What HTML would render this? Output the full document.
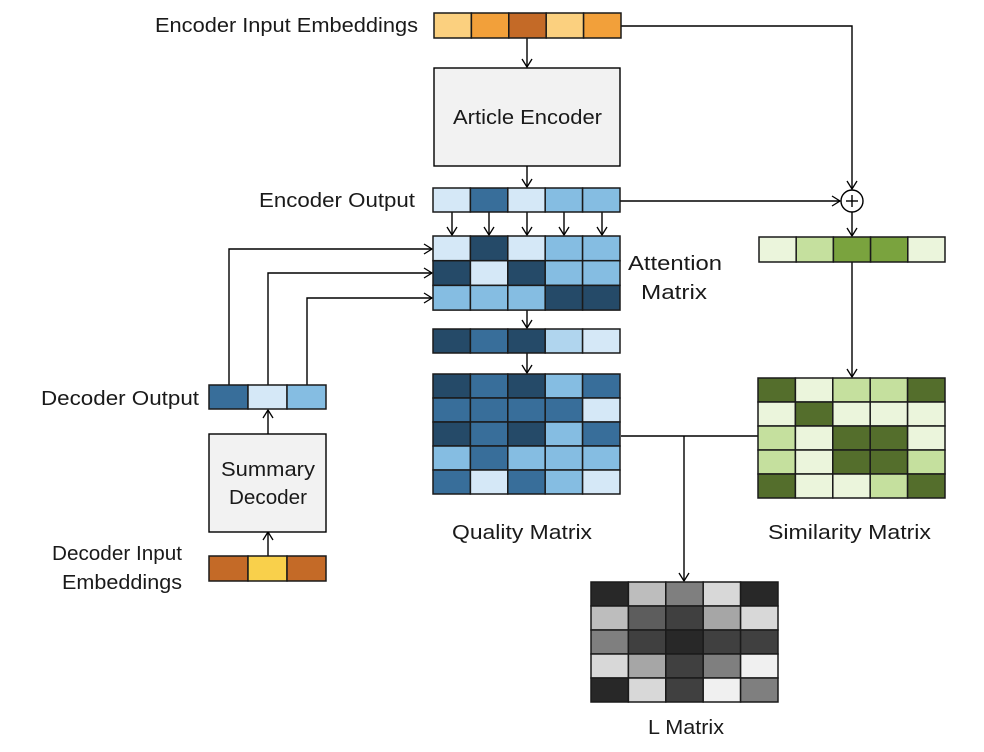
<!DOCTYPE html>
<html><head><meta charset="utf-8"><style>html,body{margin:0;padding:0;background:#fff}svg{display:block}text{font-family:"Liberation Sans",sans-serif;font-size:20px;fill:#1a1a1a}</style></head>
<body>
<svg width="984" height="752" viewBox="0 0 984 752" xmlns="http://www.w3.org/2000/svg">
<defs><marker id="a" markerWidth="12" markerHeight="12" refX="10" refY="6" orient="auto" markerUnits="userSpaceOnUse"><path d="M2,1 L10,6 L2,11" fill="none" stroke="#000" stroke-width="1.3"/></marker></defs>
<g stroke="#000" stroke-width="1.4" fill="none">
<!-- connectors -->
<line x1="527" y1="38" x2="527" y2="67" marker-end="url(#a)"/>
<line x1="527" y1="166" x2="527" y2="187" marker-end="url(#a)"/>
<polyline points="621,26 852,26 852,189" marker-end="url(#a)"/>
<line x1="620" y1="201" x2="840" y2="201" marker-end="url(#a)"/>
<line x1="852" y1="212" x2="852" y2="236" marker-end="url(#a)"/>
<line x1="852" y1="262" x2="852" y2="377" marker-end="url(#a)"/>
<line x1="452" y1="212" x2="452" y2="235" marker-end="url(#a)"/>
<line x1="489" y1="212" x2="489" y2="235" marker-end="url(#a)"/>
<line x1="527" y1="212" x2="527" y2="235" marker-end="url(#a)"/>
<line x1="564" y1="212" x2="564" y2="235" marker-end="url(#a)"/>
<line x1="602" y1="212" x2="602" y2="235" marker-end="url(#a)"/>
<line x1="527" y1="310" x2="527" y2="328" marker-end="url(#a)"/>
<line x1="527" y1="353" x2="527" y2="373" marker-end="url(#a)"/>
<polyline points="229,385 229,249 432,249" marker-end="url(#a)"/>
<polyline points="268,385 268,273 432,273" marker-end="url(#a)"/>
<polyline points="307,385 307,298 432,298" marker-end="url(#a)"/>
<line x1="268" y1="434" x2="268" y2="410" marker-end="url(#a)"/>
<line x1="268" y1="556" x2="268" y2="532" marker-end="url(#a)"/>
<line x1="621" y1="436" x2="758" y2="436"/>
<line x1="684" y1="436" x2="684" y2="581" marker-end="url(#a)"/>
<circle cx="852" cy="201" r="11" fill="#fff"/>
<line x1="846" y1="201" x2="858" y2="201"/><line x1="852" y1="195" x2="852" y2="207"/>
<!-- boxes -->
<rect x="434" y="68" width="186" height="98" fill="#f2f2f2"/>
<rect x="209" y="434" width="117" height="98" fill="#f2f2f2"/>
</g>
<g stroke="#1a1a1a" stroke-width="1.5">
<!-- encoder input -->
<rect x="434" y="13" width="37.4" height="25" fill="#fbd07f"/><rect x="471.4" y="13" width="37.4" height="25" fill="#f2a03a"/><rect x="508.8" y="13" width="37.4" height="25" fill="#c46a27"/><rect x="546.2" y="13" width="37.4" height="25" fill="#fbd07f"/><rect x="583.6" y="13" width="37.4" height="25" fill="#f2a03a"/>
<!-- encoder output -->
<rect x="433" y="188" width="37.4" height="24" fill="#d5e8f7"/><rect x="470.4" y="188" width="37.4" height="24" fill="#386e9a"/><rect x="507.8" y="188" width="37.4" height="24" fill="#d5e8f7"/><rect x="545.2" y="188" width="37.4" height="24" fill="#85bde2"/><rect x="582.6" y="188" width="37.4" height="24" fill="#85bde2"/>
<!-- attention -->
<rect x="433" y="236" width="37.4" height="24.7" fill="#d5e8f7"/><rect x="470.4" y="236" width="37.4" height="24.7" fill="#254a68"/><rect x="507.8" y="236" width="37.4" height="24.7" fill="#d5e8f7"/><rect x="545.2" y="236" width="37.4" height="24.7" fill="#85bde2"/><rect x="582.6" y="236" width="37.4" height="24.7" fill="#85bde2"/>
<rect x="433" y="260.7" width="37.4" height="24.7" fill="#254a68"/><rect x="470.4" y="260.7" width="37.4" height="24.7" fill="#d5e8f7"/><rect x="507.8" y="260.7" width="37.4" height="24.7" fill="#254a68"/><rect x="545.2" y="260.7" width="37.4" height="24.7" fill="#85bde2"/><rect x="582.6" y="260.7" width="37.4" height="24.7" fill="#85bde2"/>
<rect x="433" y="285.4" width="37.4" height="24.7" fill="#85bde2"/><rect x="470.4" y="285.4" width="37.4" height="24.7" fill="#85bde2"/><rect x="507.8" y="285.4" width="37.4" height="24.7" fill="#85bde2"/><rect x="545.2" y="285.4" width="37.4" height="24.7" fill="#254a68"/><rect x="582.6" y="285.4" width="37.4" height="24.7" fill="#254a68"/>
<!-- row -->
<rect x="433" y="329" width="37.4" height="24" fill="#254a68"/><rect x="470.4" y="329" width="37.4" height="24" fill="#386e9a"/><rect x="507.8" y="329" width="37.4" height="24" fill="#254a68"/><rect x="545.2" y="329" width="37.4" height="24" fill="#b0d5ee"/><rect x="582.6" y="329" width="37.4" height="24" fill="#d5e8f7"/>
<!-- quality -->
<rect x="433" y="374" width="37.4" height="24" fill="#254a68"/><rect x="470.4" y="374" width="37.4" height="24" fill="#386e9a"/><rect x="507.8" y="374" width="37.4" height="24" fill="#254a68"/><rect x="545.2" y="374" width="37.4" height="24" fill="#85bde2"/><rect x="582.6" y="374" width="37.4" height="24" fill="#386e9a"/>
<rect x="433" y="398" width="37.4" height="24" fill="#386e9a"/><rect x="470.4" y="398" width="37.4" height="24" fill="#386e9a"/><rect x="507.8" y="398" width="37.4" height="24" fill="#386e9a"/><rect x="545.2" y="398" width="37.4" height="24" fill="#386e9a"/><rect x="582.6" y="398" width="37.4" height="24" fill="#d5e8f7"/>
<rect x="433" y="422" width="37.4" height="24" fill="#254a68"/><rect x="470.4" y="422" width="37.4" height="24" fill="#386e9a"/><rect x="507.8" y="422" width="37.4" height="24" fill="#254a68"/><rect x="545.2" y="422" width="37.4" height="24" fill="#85bde2"/><rect x="582.6" y="422" width="37.4" height="24" fill="#386e9a"/>
<rect x="433" y="446" width="37.4" height="24" fill="#85bde2"/><rect x="470.4" y="446" width="37.4" height="24" fill="#386e9a"/><rect x="507.8" y="446" width="37.4" height="24" fill="#85bde2"/><rect x="545.2" y="446" width="37.4" height="24" fill="#85bde2"/><rect x="582.6" y="446" width="37.4" height="24" fill="#85bde2"/>
<rect x="433" y="470" width="37.4" height="24" fill="#386e9a"/><rect x="470.4" y="470" width="37.4" height="24" fill="#d5e8f7"/><rect x="507.8" y="470" width="37.4" height="24" fill="#386e9a"/><rect x="545.2" y="470" width="37.4" height="24" fill="#85bde2"/><rect x="582.6" y="470" width="37.4" height="24" fill="#d5e8f7"/>
<!-- green row -->
<rect x="759" y="237" width="37.2" height="25" fill="#ebf5dc"/><rect x="796.2" y="237" width="37.2" height="25" fill="#c5e09e"/><rect x="833.4" y="237" width="37.2" height="25" fill="#7aa33e"/><rect x="870.6" y="237" width="37.2" height="25" fill="#7aa33e"/><rect x="907.8" y="237" width="37.2" height="25" fill="#ebf5dc"/>
<!-- similarity -->
<rect x="758" y="378" width="37.4" height="24" fill="#546e2c"/><rect x="795.4" y="378" width="37.4" height="24" fill="#ebf5dc"/><rect x="832.8" y="378" width="37.4" height="24" fill="#c5e09e"/><rect x="870.2" y="378" width="37.4" height="24" fill="#c5e09e"/><rect x="907.6" y="378" width="37.4" height="24" fill="#546e2c"/>
<rect x="758" y="402" width="37.4" height="24" fill="#ebf5dc"/><rect x="795.4" y="402" width="37.4" height="24" fill="#546e2c"/><rect x="832.8" y="402" width="37.4" height="24" fill="#ebf5dc"/><rect x="870.2" y="402" width="37.4" height="24" fill="#ebf5dc"/><rect x="907.6" y="402" width="37.4" height="24" fill="#ebf5dc"/>
<rect x="758" y="426" width="37.4" height="24" fill="#c5e09e"/><rect x="795.4" y="426" width="37.4" height="24" fill="#ebf5dc"/><rect x="832.8" y="426" width="37.4" height="24" fill="#546e2c"/><rect x="870.2" y="426" width="37.4" height="24" fill="#546e2c"/><rect x="907.6" y="426" width="37.4" height="24" fill="#ebf5dc"/>
<rect x="758" y="450" width="37.4" height="24" fill="#c5e09e"/><rect x="795.4" y="450" width="37.4" height="24" fill="#ebf5dc"/><rect x="832.8" y="450" width="37.4" height="24" fill="#546e2c"/><rect x="870.2" y="450" width="37.4" height="24" fill="#546e2c"/><rect x="907.6" y="450" width="37.4" height="24" fill="#c5e09e"/>
<rect x="758" y="474" width="37.4" height="24" fill="#546e2c"/><rect x="795.4" y="474" width="37.4" height="24" fill="#ebf5dc"/><rect x="832.8" y="474" width="37.4" height="24" fill="#ebf5dc"/><rect x="870.2" y="474" width="37.4" height="24" fill="#c5e09e"/><rect x="907.6" y="474" width="37.4" height="24" fill="#546e2c"/>
<!-- L matrix -->
<rect x="591" y="582" width="37.4" height="24" fill="#282828"/><rect x="628.4" y="582" width="37.4" height="24" fill="#bdbdbd"/><rect x="665.8" y="582" width="37.4" height="24" fill="#7f7f7f"/><rect x="703.2" y="582" width="37.4" height="24" fill="#d8d8d8"/><rect x="740.6" y="582" width="37.4" height="24" fill="#282828"/>
<rect x="591" y="606" width="37.4" height="24" fill="#bdbdbd"/><rect x="628.4" y="606" width="37.4" height="24" fill="#5d5d5d"/><rect x="665.8" y="606" width="37.4" height="24" fill="#404040"/><rect x="703.2" y="606" width="37.4" height="24" fill="#a6a6a6"/><rect x="740.6" y="606" width="37.4" height="24" fill="#d8d8d8"/>
<rect x="591" y="630" width="37.4" height="24" fill="#7f7f7f"/><rect x="628.4" y="630" width="37.4" height="24" fill="#404040"/><rect x="665.8" y="630" width="37.4" height="24" fill="#282828"/><rect x="703.2" y="630" width="37.4" height="24" fill="#404040"/><rect x="740.6" y="630" width="37.4" height="24" fill="#404040"/>
<rect x="591" y="654" width="37.4" height="24" fill="#d8d8d8"/><rect x="628.4" y="654" width="37.4" height="24" fill="#a6a6a6"/><rect x="665.8" y="654" width="37.4" height="24" fill="#404040"/><rect x="703.2" y="654" width="37.4" height="24" fill="#7f7f7f"/><rect x="740.6" y="654" width="37.4" height="24" fill="#f0f0f0"/>
<rect x="591" y="678" width="37.4" height="24" fill="#282828"/><rect x="628.4" y="678" width="37.4" height="24" fill="#d8d8d8"/><rect x="665.8" y="678" width="37.4" height="24" fill="#404040"/><rect x="703.2" y="678" width="37.4" height="24" fill="#f0f0f0"/><rect x="740.6" y="678" width="37.4" height="24" fill="#7f7f7f"/>
<!-- decoder out / in -->
<rect x="209" y="385" width="39" height="24" fill="#386e9a"/><rect x="248" y="385" width="39" height="24" fill="#d5e8f7"/><rect x="287" y="385" width="39" height="24" fill="#85bde2"/>
<rect x="209" y="556" width="39" height="25" fill="#c46a27"/><rect x="248" y="556" width="39" height="25" fill="#f9d04b"/><rect x="287" y="556" width="39" height="25" fill="#c46a27"/>
</g>
<text x="155" y="32" textLength="263" lengthAdjust="spacingAndGlyphs">Encoder Input Embeddings</text>
<text x="453" y="124" textLength="149" lengthAdjust="spacingAndGlyphs">Article Encoder</text>
<text x="259" y="207" textLength="156" lengthAdjust="spacingAndGlyphs">Encoder Output</text>
<text x="628" y="270" textLength="94" lengthAdjust="spacingAndGlyphs">Attention</text>
<text x="641" y="299" textLength="66" lengthAdjust="spacingAndGlyphs">Matrix</text>
<text x="41" y="405" textLength="158" lengthAdjust="spacingAndGlyphs">Decoder Output</text>
<text x="221" y="476" textLength="94" lengthAdjust="spacingAndGlyphs">Summary</text>
<text x="229" y="504" textLength="78" lengthAdjust="spacingAndGlyphs">Decoder</text>
<text x="52" y="560" textLength="130" lengthAdjust="spacingAndGlyphs">Decoder Input</text>
<text x="62" y="589" textLength="120" lengthAdjust="spacingAndGlyphs">Embeddings</text>
<text x="452" y="539" textLength="140" lengthAdjust="spacingAndGlyphs">Quality Matrix</text>
<text x="768" y="539" textLength="163" lengthAdjust="spacingAndGlyphs">Similarity Matrix</text>
<text x="648" y="734" textLength="76" lengthAdjust="spacingAndGlyphs">L Matrix</text>
</svg>
</body></html>
